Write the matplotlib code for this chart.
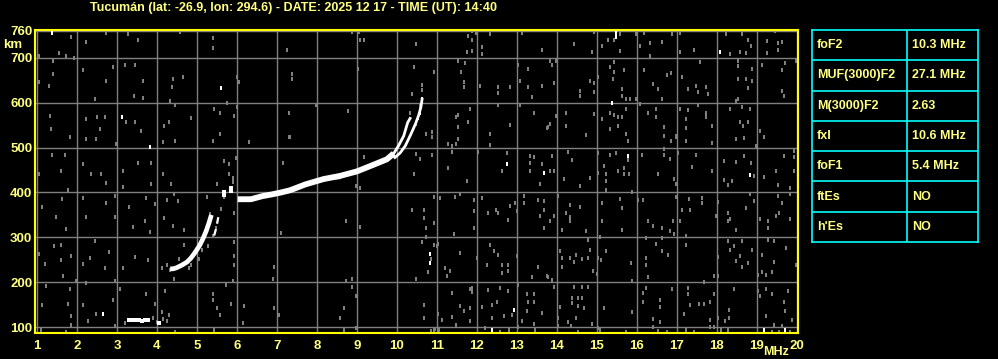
import numpy as np
from matplotlib import pyplot as plt

plt.rcParams['font.family'] = ['Liberation Sans', 'DejaVu Sans']

title = "Tucumán (lat: -26.9, lon: 294.6) - DATE: 2025 12 17 - TIME (UT): 14:40"

# table of scaled parameters
params = ['foF2', 'MUF(3000)F2', 'M(3000)F2', 'fxI', 'foF1', 'ftEs', "h'Es"]
values = ['10.3 MHz', '27.1 MHz', '2.63', '10.6 MHz', '5.4 MHz', 'NO', 'NO']

xticks = list(range(1, 21))
yticks = [100, 200, 300, 400, 500, 600, 700, 760]

# F1 trace (ordinary)
f1_f = [4.33, 4.40, 4.48, 4.62, 4.75, 4.85, 4.95, 5.06, 5.15, 5.23, 5.30, 5.36]
f1_km = [230, 230, 232, 238, 245, 254, 266, 281, 297, 314, 332, 350]
# F1 trace (extraordinary, broken)
f1x_f = [5.43, 5.48, 5.54]
f1x_km = [304, 320, 348]
# blobs near the F1/F2 cusp
cusp_f = [5.68, 5.68, 5.85, 5.85]
cusp_km = [395, 402, 403, 410]

# F2 trace, common part
f2_f = [6.02, 6.35, 6.64, 6.89, 7.10, 7.33, 7.71, 8.17, 8.58, 9.00, 9.42, 9.75, 9.92]
f2_km = [385, 385, 392, 396, 400, 405, 418, 430, 437, 447, 462, 474, 487]
# F2 ordinary branch
f2o_f = [9.92, 10.04, 10.17, 10.27, 10.33]
f2o_km = [487, 504, 526, 556, 565]
# F2 extraordinary branch
f2x_f = [9.95, 10.08, 10.21, 10.35, 10.46, 10.54, 10.60, 10.63]
f2x_km = [478, 488, 504, 530, 552, 571, 590, 608]
# thin echo just above F2
thin_f = [8.00, 8.58]
thin_km = [429, 431]

# E-layer echoes at the bottom
e_f = [3.30, 3.40, 3.48, 3.55, 3.62, 3.70, 3.78, 4.05]
e_km = [115, 117, 116, 115, 114, 116, 115, 110]

# scattered noise (gray)
noise_f = [1.84, 2.23, 2.73, 3.28, 3.53, 1.54, 1.04, 1.40, 1.73, 1.92, 2.90, 2.15, 3.19, 3.44, 3.65,
           2.73, 1.40, 1.29, 1.04, 2.44, 3.43, 3.64, 2.49, 2.69, 1.32, 2.23, 3.23, 3.44, 3.61, 2.57,
           1.82, 1.36, 2.23, 2.48, 2.98, 4.15, 1.37, 1.69, 2.15, 2.61, 2.36, 3.15, 3.53, 3.84, 1.04,
           1.59, 2.73, 3.15, 3.84, 1.78, 4.15, 1.63, 2.15, 2.73, 2.94, 3.29, 3.73, 3.94, 1.13, 1.48,
           2.23, 2.94, 3.40, 3.69, 1.73, 3.82, 1.60, 2.44, 1.43, 1.04, 1.19, 1.59, 1.86, 2.32, 2.79,
           2.15, 2.69, 3.15, 3.44, 3.78, 4.13, 1.65, 1.98, 2.23, 2.94, 1.23, 1.82, 3.08, 3.73, 1.78,
           2.15, 2.90, 1.13, 2.48, 1.84, 2.27, 1.86, 2.94, 1.72, 1.11, 3.94, 4.13,
           3.20, 3.90, 4.00, 4.15,
           4.58, 5.39, 5.39, 7.24, 4.39, 4.64, 4.38, 5.99, 6.04, 7.38, 4.33, 4.44, 5.43, 5.74, 5.99,
           5.58, 5.93, 4.85, 4.18, 4.31, 7.29, 5.58, 7.31, 5.39, 4.45, 6.29, 5.67, 5.81, 5.98, 7.14,
           5.79, 5.89, 5.49, 4.35, 5.25, 4.43, 4.24, 4.52, 5.93, 5.59, 4.18, 4.39, 4.68, 5.39, 7.10,
           4.68, 5.28, 5.93, 5.93, 5.93, 4.24, 6.93, 4.43, 6.89, 5.89, 4.21, 5.73, 5.39, 5.39, 5.85,
           5.49, 6.18, 6.93, 7.06, 4.31, 4.24, 5.58, 6.14, 4.45, 5.43,
           5.13, 5.06, 4.85, 4.81, 4.54, 4.33, 5.33, 5.48, 5.89, 5.68,
           8.79, 8.88, 9.04, 9.08, 9.18, 10.48, 10.43, 9.03, 7.38, 7.38, 10.38, 7.98, 8.78, 10.33, 10.48,
           10.57, 7.32, 9.18, 10.48, 10.43, 9.08, 8.98, 10.38, 8.73, 9.08, 10.48, 8.73, 8.88, 8.88, 8.98,
           8.68, 8.58, 8.68, 8.98,
           10.73, 11.89, 11.89, 11.79, 11.98, 12.33, 13.14, 11.89, 11.75, 12.14, 12.14, 13.64, 11.54, 11.71, 10.92,
           11.61, 13.04, 13.29, 10.64, 10.64, 11.69, 11.69, 12.08, 12.54, 12.54, 12.83, 13.08, 13.29, 13.39, 13.64,
           10.58, 11.54, 11.83, 11.48, 11.79, 12.54, 13.08, 13.44, 13.75, 12.83, 10.73, 10.89, 10.89, 11.54, 11.54,
           11.29, 11.38, 11.48, 12.33, 12.33, 10.58, 10.89, 11.29, 11.39, 11.75, 12.04, 12.75, 12.64, 13.33, 13.44,
           13.33, 13.33, 13.64, 13.58, 10.69, 10.69, 10.92, 11.08, 11.46, 11.58, 11.94, 11.94, 12.14, 12.29, 12.54,
           12.48, 12.83, 12.96, 13.00, 13.19, 13.19, 13.54, 13.69, 13.58, 13.69, 13.69, 10.94, 11.44, 11.94, 12.79,
           10.73, 10.73, 10.86, 10.64, 10.92, 11.02, 11.00, 11.58, 11.21, 11.25, 11.33, 10.79, 12.33, 12.44, 12.54,
           12.25, 12.62, 12.79, 12.79, 12.62, 12.00, 13.00, 13.37, 13.54, 13.75, 11.89, 11.89, 11.83, 11.38, 10.69,
           10.69, 11.04, 11.14, 11.38, 11.48, 11.58, 11.83, 11.69, 11.83, 12.14, 12.29, 12.39, 12.50, 12.58, 12.79,
           12.38, 12.69, 12.88, 13.04, 13.25, 13.29, 13.44, 13.44, 13.64, 13.25, 13.13, 13.42, 10.92, 12.21, 12.58,
           12.81, 13.04, 13.46, 10.85, 10.95, 11.05,
           14.28, 14.94, 15.58, 15.44, 15.28, 15.13, 15.58, 15.98, 16.17, 16.40, 16.33, 16.63, 16.88, 16.07, 16.33,
           14.43, 14.88, 13.88, 13.82, 13.97, 13.92, 14.57, 14.57, 14.83, 14.94, 14.94, 15.03, 15.33, 15.44, 15.44,
           15.40, 15.63, 15.69, 15.63, 15.73, 15.83, 15.98, 16.08, 16.19, 16.40, 16.53, 16.63, 16.86, 16.75, 13.78,
           13.83, 13.98, 14.23, 14.23, 14.73, 14.94, 15.13, 15.32, 15.32, 15.44, 15.53, 15.63, 15.73, 15.53, 15.73,
           15.78, 16.28, 16.48, 16.48, 16.69, 16.69, 16.86, 16.97, 13.88, 13.82, 13.92, 14.28, 14.38, 14.17, 14.57,
           14.82, 15.03, 15.03, 15.19, 15.23, 15.23, 15.23, 15.33, 15.48, 15.53, 15.69, 15.69, 15.78, 15.81, 16.13,
           16.53, 16.69, 16.69, 16.83, 16.94, 16.97, 14.03, 14.33, 14.57, 14.23, 14.33, 14.33, 14.13, 13.83, 13.92,
           14.73, 15.13, 15.13, 15.58, 15.63, 15.63, 15.88, 16.03, 16.15, 16.28, 16.40, 16.63, 16.83, 16.94, 16.90,
           14.78, 14.83, 15.08, 14.07, 14.13, 14.13, 14.33, 14.43, 14.48, 14.63, 14.78, 14.91, 15.00, 15.03, 15.11,
           15.23, 13.78, 13.88, 13.92, 14.43, 14.62, 14.77, 16.23, 16.23, 16.23, 16.28, 16.48, 16.63, 16.63, 16.77,
           15.86, 15.88, 16.23, 16.15, 16.15, 16.58, 16.58, 16.88, 14.07, 14.38, 14.38, 14.52, 14.62, 14.52, 14.68,
           14.48, 14.36, 14.28, 14.03, 14.03, 14.88, 15.19, 15.88, 16.40, 16.57, 16.40, 15.03, 15.09, 15.73, 14.52,
           16.53, 16.75,
           17.08, 17.08, 17.43, 18.23, 18.43, 18.64, 18.78, 18.58, 18.73, 18.33, 18.83, 18.85, 19.25, 19.45, 19.52,
           19.62, 19.25, 19.52, 17.58, 18.53, 18.53, 18.89, 19.14, 19.64, 19.70, 19.98, 17.12, 17.28, 17.48, 17.73,
           17.77, 17.52, 18.53, 18.72, 18.87, 18.78, 18.53, 18.48, 19.64, 19.68, 17.53, 17.08, 17.28, 17.23, 17.73,
           17.73, 17.89, 18.33, 18.62, 18.82, 18.58, 18.78, 18.66, 19.08, 19.18, 17.23, 17.23, 16.98, 17.89, 18.48,
           18.68, 18.98, 18.68, 18.86, 18.48, 18.18, 17.48, 17.03, 17.89, 17.39, 18.93, 19.17, 19.93, 19.93, 19.68,
           19.48, 19.93, 18.18, 18.39, 18.27, 16.98, 19.52, 19.82, 16.98, 17.31, 17.64, 17.33, 17.12, 17.64, 18.02,
           18.73, 18.83, 18.93, 19.08, 19.27, 19.28, 19.48, 19.56, 19.82, 19.82, 19.52, 19.64, 18.33, 18.28, 18.48,
           18.29, 17.98, 17.07, 17.22, 17.22, 18.28, 18.33, 18.43, 18.62, 18.58, 18.48, 18.64, 18.78, 18.89, 19.12,
           19.28, 19.43, 19.43, 19.37, 19.23, 19.14, 19.02, 19.73, 19.98, 18.02, 18.02, 17.93, 17.68, 17.28, 17.28,
           17.56, 17.68, 17.83, 17.93, 17.33, 17.17, 17.83, 17.83, 18.02, 18.20, 18.43, 18.31, 18.31, 19.02, 19.23,
           19.39, 19.08, 19.78, 19.68, 19.70, 19.89, 19.23, 19.43, 19.64, 17.23, 17.43, 17.93, 18.10, 18.28, 19.39,
           19.56, 19.82]
noise_km = [746, 735, 755, 754, 739, 710, 703, 694, 703, 699, 679, 672, 683, 683, 649,
            649, 664, 638, 646, 608, 616, 610, 569, 568, 571, 564, 556, 556, 538, 541,
            524, 541, 519, 519, 508, 512, 483, 483, 463, 441, 441, 447, 465, 465, 442,
            447, 422, 412, 418, 405, 441, 385, 387, 376, 392, 368, 387, 374, 368, 345,
            345, 345, 324, 336, 319, 311, 284, 292, 281, 262, 241, 249, 258, 253, 268,
            240, 232, 232, 256, 249, 232, 213, 202, 199, 202, 191, 184, 185, 174, 152,
            150, 161, 149, 129, 124, 113, 105, 103, 90, 94, 152, 134,
            110, 120, 112, 118,
            757, 745, 722, 718, 653, 657, 636, 657, 646, 664, 603, 596, 586, 599, 590,
            578, 571, 567, 549, 556, 578, 531, 523, 514, 514, 512, 470, 463, 476, 465,
            441, 433, 418, 418, 391, 396, 383, 381, 355, 363, 344, 325, 316, 303, 310,
            282, 280, 289, 258, 239, 239, 235, 207, 207, 202, 180, 195, 173, 161, 152,
            143, 148, 143, 126, 126, 113, 128, 109, 90, 94,
            273, 251, 239, 232, 251, 228, 352, 322, 424, 389,
            763, 757, 757, 740, 740, 731, 679, 675, 664, 653, 620, 595, 581, 578, 552,
            590, 524, 478, 485, 441, 409, 414, 360, 337, 323, 207, 202, 208, 190, 169,
            143, 120, 94, 98,
            763, 760, 739, 748, 755, 754, 755, 715, 713, 725, 709, 718, 693, 688, 669,
            669, 683, 675, 640, 628, 646, 634, 638, 634, 621, 634, 649, 634, 612, 638,
            596, 573, 586, 568, 558, 595, 595, 578, 543, 550, 530, 534, 523, 545, 519,
            508, 504, 508, 530, 506, 474, 484, 454, 491, 426, 491, 489, 448, 482, 478,
            465, 448, 463, 420, 362, 343, 389, 387, 390, 396, 383, 359, 387, 355, 355,
            362, 370, 377, 359, 392, 377, 383, 381, 347, 360, 321, 333, 307, 320, 338,
            320, 301, 251, 289, 284, 286, 281, 266, 232, 213, 225, 223, 284, 269, 260,
            239, 239, 239, 225, 221, 254, 258, 211, 233, 213, 188, 178, 186, 177, 150,
            120, 129, 117, 122, 105, 148, 143, 135, 113, 146, 183, 150, 157, 188, 181,
            120, 124, 127, 193, 173, 157, 173, 155, 131, 135, 113, 107, 94, 98, 90,
            94, 101, 94, 92, 95, 93,
            763, 757, 754, 740, 739, 727, 715, 754, 755, 763, 733, 735, 754, 727, 703,
            731, 713, 683, 694, 694, 643, 627, 616, 649, 643, 623, 658, 679, 690, 668,
            653, 631, 672, 616, 608, 608, 608, 597, 672, 642, 631, 608, 666, 661, 545,
            552, 571, 576, 549, 529, 575, 564, 576, 541, 573, 569, 568, 586, 549, 530,
            515, 576, 586, 568, 545, 526, 515, 526, 481, 448, 448, 491, 472, 430, 415,
            433, 487, 443, 460, 441, 426, 405, 483, 487, 447, 454, 441, 472, 442, 483,
            442, 497, 483, 474, 430, 418, 392, 373, 367, 355, 345, 336, 317, 337, 347,
            314, 377, 336, 385, 366, 317, 401, 383, 384, 337, 325, 320, 314, 308, 337,
            295, 273, 300, 270, 254, 235, 255, 246, 261, 252, 255, 226, 219, 255, 249,
            270, 211, 206, 190, 190, 190, 190, 298, 254, 239, 211, 286, 298, 269, 261,
            243, 202, 188, 175, 156, 161, 145, 185, 145, 164, 153, 164, 164, 147, 142,
            120, 103, 111, 120, 102, 106, 142, 134, 118, 112, 101, 98, 94, 90, 90,
            92, 90,
            755, 713, 718, 754, 763, 753, 739, 713, 711, 709, 763, 727, 737, 760, 733,
            735, 711, 718, 690, 693, 681, 676, 684, 672, 688, 694, 657, 631, 638, 634,
            620, 623, 653, 653, 648, 633, 608, 603, 627, 616, 595, 586, 583, 564, 576,
            568, 549, 586, 590, 586, 558, 558, 549, 538, 523, 543, 515, 523, 510, 519,
            521, 504, 481, 465, 467, 470, 484, 487, 448, 457, 437, 435, 492, 478, 482,
            447, 447, 428, 426, 417, 420, 416, 411, 389, 385, 387, 362, 360, 377, 379,
            366, 396, 382, 342, 337, 321, 347, 355, 342, 396, 392, 377, 342, 336, 317,
            355, 347, 337, 302, 284, 291, 273, 280, 291, 259, 247, 235, 243, 271, 260,
            295, 291, 246, 224, 217, 224, 217, 276, 239, 256, 213, 213, 201, 188, 173,
            152, 152, 155, 173, 149, 129, 116, 101, 120, 113, 186, 139, 120, 180, 186,
            173, 169, 180, 155, 135, 116, 124, 105, 103, 94, 90, 101, 94, 94, 90,
            90, 90]

# scattered noise (white)
white_f = [1.38, 3.13, 3.82, 2.65, 5.59, 10.63, 10.58, 10.54, 12.75, 13.69, 10.83, 10.83, 12.94, 12.39,
           15.48, 15.48, 15.38, 15.78, 18.08, 18.83, 19.17, 19.70]
white_km = [755, 569, 502, 129, 633, 608, 578, 566, 463, 444, 264, 243, 139, 94,
            755, 746, 600, 481, 713, 440, 94, 94]

yellow = '#ffff80'
gray = '#808080'

fig = plt.figure(figsize=(9.98, 3.59), dpi=100, facecolor='black')
ax = fig.add_axes([35 / 998, 1 - 333 / 359, 763 / 998, 303 / 359])
ax.set_facecolor('black')

# noise marks (small vertical rectangles)
rect = [(-1, -2), (1, -2), (1, 2), (-1, 2)]
ax.plot(noise_f, noise_km, linestyle='none', marker=rect, ms=2.9, mew=0, color=gray, zorder=2)
ax.plot(white_f, white_km, linestyle='none', marker=rect, ms=3.2, mew=0, color='white', zorder=3)
ax.plot(e_f, e_km, linestyle='none', marker='s', ms=2.6, mew=0, color='white', zorder=3)

# traces
ax.plot(f1_f, f1_km, color='white', lw=3.4, solid_capstyle='butt', zorder=4)
ax.plot(f1x_f, f1x_km, color='white', lw=1.6, dashes=(3, 2.5), zorder=4)
ax.plot(cusp_f, cusp_km, linestyle='none', marker='s', ms=2.8, mew=0, color='white', zorder=4)
ax.plot(f2_f, f2_km, color='white', lw=4.2, solid_capstyle='butt', zorder=4)
ax.plot(f2o_f, f2o_km, color='white', lw=2.0, zorder=4)
ax.plot(f2x_f, f2x_km, color='white', lw=2.0, zorder=4)
ax.plot(thin_f, thin_km, color='white', lw=0.8, zorder=4)

ax.set_xlim(0.95, 20.03)
ax.set_ylim(87, 762)
ax.set_xticks(xticks)
ax.set_xticklabels([str(t) for t in xticks])
ax.set_yticks(yticks)
ax.set_yticklabels([str(t) for t in yticks])
ax.tick_params(axis='x', length=0, colors=yellow, labelsize=9.5, pad=5)
ax.tick_params(axis='y', length=0, colors=yellow, labelsize=9.5, pad=2)
for lab in ax.get_xticklabels() + ax.get_yticklabels():
    lab.set_fontweight('bold')
ax.grid(True, color=gray, lw=1.0, zorder=1)
for s in ax.spines.values():
    s.set_color('#ffff00')
    s.set_linewidth(1.5)

fig.text(90 / 998, 1 - 8 / 359, title, color=yellow, fontsize=9, fontweight='bold',
         ha='left', va='center')
fig.text(22 / 998, 1 - 45 / 359, 'km', color=yellow, fontsize=9.5, fontweight='bold',
         ha='right', va='center')
fig.text(776 / 998, 1 - 352 / 359, 'MHz', color=yellow, fontsize=9, fontweight='bold',
         ha='center', va='center')

# parameter table
tab = fig.add_axes([812 / 998, 1 - 242 / 359, 166 / 998, 212 / 359])
tab.set_facecolor('black')
tab.set_xlim(0, 166)
tab.set_ylim(len(params), 0)
tab.set_xticks([])
tab.set_yticks([])
for s in tab.spines.values():
    s.set_color('#00ffff')
    s.set_linewidth(1.2)
for i in range(1, len(params)):
    tab.axhline(i, color='#00ffff', lw=1.2)
tab.axvline(95, color='#00ffff', lw=1.2)
for i in range(len(params)):
    tab.text(5, i + 0.5, params[i], color=yellow, fontsize=9, fontweight='bold', va='center')
    tab.text(100, i + 0.5, values[i], color=yellow, fontsize=9, fontweight='bold', va='center')

fig.savefig('out.png', dpi=100, facecolor='black')
